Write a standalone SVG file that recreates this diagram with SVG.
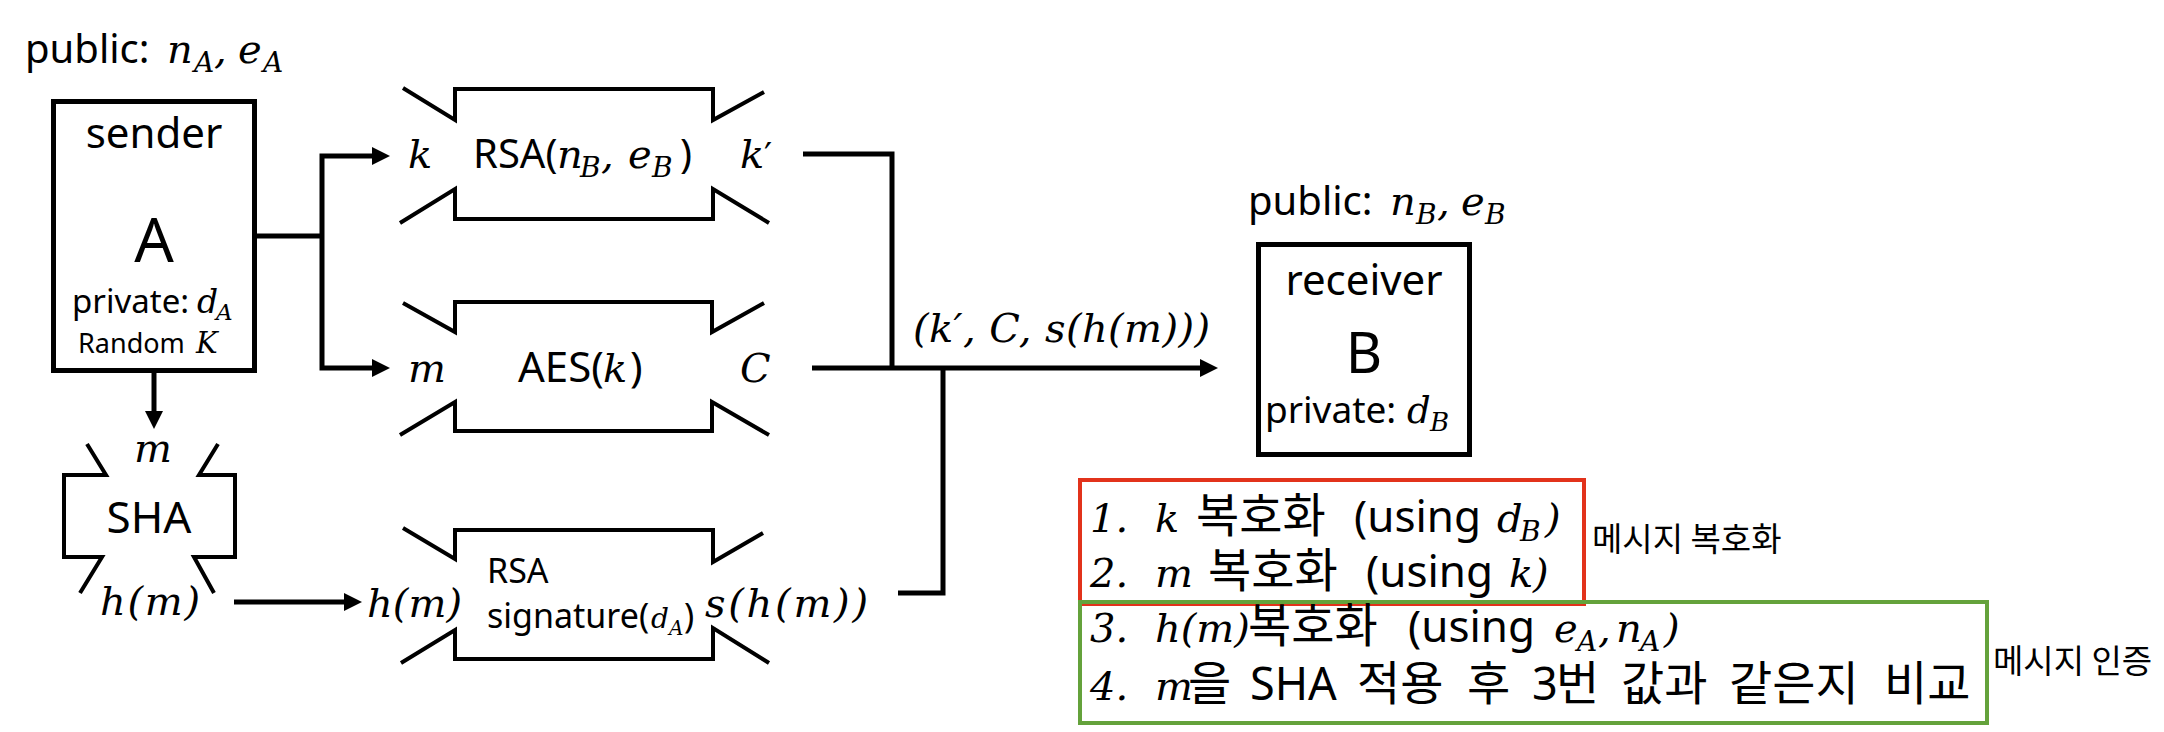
<svg xmlns="http://www.w3.org/2000/svg" width="2164" height="732" viewBox="0 0 2164 732">
<defs>
<style>
.s{font-family:"Noto Sans","Noto Sans CJK KR",sans-serif;fill:#000}
.k{font-family:"Noto Sans CJK KR","Noto Sans",sans-serif;fill:#000}
.m{font-family:"DejaVu Serif",serif;font-style:italic;fill:#000}
.up{font-style:normal}
.box{fill:none;stroke:#000;stroke-width:5}
.blk{fill:none;stroke:#000;stroke-width:4;stroke-linejoin:miter}
.wire{fill:none;stroke:#000;stroke-width:5;stroke-linejoin:miter}
</style>
<marker id="ah" markerUnits="userSpaceOnUse" markerWidth="18" markerHeight="18" refX="12" refY="9" orient="auto">
<path d="M0,0 L18,9 L0,18 z" fill="#000"/>
</marker>
</defs>
<rect width="2164" height="732" fill="#fff"/>

<g id="sender">
<text y="63"><tspan class="s" x="25" font-size="40">public:</tspan><tspan class="m" x="167" font-size="40">n</tspan><tspan class="m" x="194" dy="9" font-size="28">A</tspan><tspan class="m" x="214" dy="-9" font-size="40">,</tspan><tspan class="m" x="238" font-size="40">e</tspan><tspan class="m" x="263" dy="9" font-size="28">A</tspan></text>
<rect class="box" x="53.5" y="101.5" width="201" height="269"/>
<text class="s" x="154" y="148" font-size="42" text-anchor="middle">sender</text>
<text class="s" x="154" y="262" font-size="62" text-anchor="middle">A</text>
<text y="313"><tspan class="s" x="72" font-size="33">private:</tspan><tspan class="m" x="197" font-size="33">d</tspan><tspan class="m" x="216" dy="7" font-size="23">A</tspan></text>
<text y="353"><tspan class="s" x="78" font-size="27">Random</tspan><tspan class="m" x="196" font-size="29">K</tspan></text>
</g>

<g id="sha">
<path class="blk" d="M87,444 L106,475 L64,475 L64,557 L102,557 L80,593 M218,444 L199,475 L235,475 L235,557 L194,557 L214,593"/>
<text class="m" x="153" y="462" font-size="40" text-anchor="middle">m</text>
<text class="s" x="149" y="533" font-size="44" text-anchor="middle">SHA</text>
<text class="m" x="100" y="615" font-size="40" textLength="100" lengthAdjust="spacing">h(m)</text>
</g>

<g id="rsa">
<path class="blk" d="M403,88 L455,120 L455,89 L713,89 L713,120 L764,92 M400,223 L455,189 L455,219 L713,219 L713,189 L769,223"/>
<text class="m" x="408" y="168" font-size="40">k</text>
<text y="168"><tspan class="s" x="473" font-size="40">RSA(</tspan><tspan class="m" x="557" font-size="40">n</tspan><tspan class="m" x="580" dy="9" font-size="28">B</tspan><tspan class="m" x="601" dy="-9" font-size="40">,</tspan><tspan class="m" x="628" font-size="40">e</tspan><tspan class="m" x="652" dy="9" font-size="28">B</tspan><tspan class="s" x="680" dy="-9" font-size="40">)</tspan></text>
<text y="168"><tspan class="m" x="740" font-size="40">k</tspan><tspan class="m up" x="764" font-size="36">′</tspan></text>
</g>

<g id="aes">
<path class="blk" d="M403,303 L455,332 L455,302 L712,302 L712,332 L764,303 M400,435 L455,402 L455,431 L712,431 L712,402 L769,435"/>
<text class="m" x="408" y="382" font-size="40">m</text>
<text y="382"><tspan class="s" x="518" font-size="42">AES(</tspan><tspan class="m" x="603" font-size="40">k</tspan><tspan class="s" x="630" font-size="42">)</tspan></text>
<text class="m" x="740" y="382" font-size="40">C</text>
</g>

<g id="signature">
<path class="blk" d="M403,528 L455,559 L455,530 L713,530 L713,562 L763,533 M401,663 L455,630 L455,659 L713,659 L713,628 L769,663"/>
<text class="m" x="367" y="617" font-size="40" textLength="95" lengthAdjust="spacing">h(m)</text>
<text class="s" x="487" y="583" font-size="34">RSA</text>
<text y="628"><tspan class="s" x="487" font-size="34">signature(</tspan><tspan class="m" x="651" font-size="28">d</tspan><tspan class="m" x="669" dy="7" font-size="20">A</tspan><tspan class="s" x="684" dy="-7" font-size="34">)</tspan></text>
<text class="m" x="705" y="617" font-size="40" textLength="163" lengthAdjust="spacing">s(h(m))</text>
</g>

<g id="receiver">
<text y="215"><tspan class="s" x="1248" font-size="40">public:</tspan><tspan class="m" x="1390" font-size="40">n</tspan><tspan class="m" x="1416" dy="9" font-size="28">B</tspan><tspan class="m" x="1437" dy="-9" font-size="40">,</tspan><tspan class="m" x="1461" font-size="40">e</tspan><tspan class="m" x="1485" dy="9" font-size="28">B</tspan></text>
<rect class="box" x="1258.5" y="244.5" width="211" height="210"/>
<text class="s" x="1364" y="295" font-size="42" text-anchor="middle">receiver</text>
<text class="s" x="1364" y="373" font-size="56" text-anchor="middle">B</text>
<text y="423"><tspan class="s" x="1265" font-size="37">private:</tspan><tspan class="m" x="1407" font-size="37">d</tspan><tspan class="m" x="1430" dy="8" font-size="26">B</tspan></text>
</g>

<g id="message">
<text class="m" x="913" y="342" font-size="40" textLength="297" lengthAdjust="spacing">(k′, C, s(h(m)))</text>
</g>

<g id="decrypt-steps">
<rect x="1080" y="480" width="504" height="124" fill="none" stroke="#E2321B" stroke-width="4"/>
<text y="532"><tspan class="m" x="1090" font-size="40">1.</tspan><tspan class="m" x="1155" font-size="40">k</tspan><tspan class="k" x="1196" font-size="47">복호화</tspan><tspan class="s" x="1354" font-size="44">(using</tspan><tspan class="m" x="1497" font-size="40">d</tspan><tspan class="m" x="1520" dy="9" font-size="28">B</tspan><tspan class="m" x="1545" dy="-9" font-size="40">)</tspan></text>
<text y="587"><tspan class="m" x="1090" font-size="40">2.</tspan><tspan class="m" x="1155" font-size="40">m</tspan><tspan class="k" x="1208" font-size="47">복호화</tspan><tspan class="s" x="1366" font-size="44">(using</tspan><tspan class="m" x="1509" font-size="40">k</tspan><tspan class="m" x="1533" font-size="40">)</tspan></text>
<text class="k" x="1592" y="551" font-size="33">메시지 복호화</text>
</g>

<g id="verify-steps">
<rect x="1080" y="602" width="907" height="121" fill="none" stroke="#64A23B" stroke-width="4"/>
<text y="642"><tspan class="m" x="1090" font-size="40">3.</tspan><tspan class="m" x="1155" font-size="40">h(m)</tspan><tspan class="k" x="1248" font-size="47">복호화</tspan><tspan class="s" x="1408" font-size="44">(using</tspan><tspan class="m" x="1554" font-size="40">e</tspan><tspan class="m" x="1577" dy="9" font-size="28">A</tspan><tspan class="m" x="1598" dy="-9" font-size="40">,</tspan><tspan class="m" x="1616" font-size="40">n</tspan><tspan class="m" x="1640" dy="9" font-size="28">A</tspan><tspan class="m" x="1664" dy="-9" font-size="40">)</tspan></text>
<text y="700"><tspan class="m" x="1090" font-size="40">4.</tspan><tspan class="m" x="1155" font-size="40">m</tspan><tspan class="k" x="1188" font-size="47">을</tspan><tspan class="s" x="1250" font-size="45">SHA</tspan><tspan class="k" x="1357" font-size="47">적용</tspan><tspan class="k" x="1467" font-size="47">후</tspan><tspan class="s" x="1532" font-size="45">3</tspan><tspan class="k" x="1556" font-size="47">번</tspan><tspan class="k" x="1621" font-size="47">값과</tspan><tspan class="k" x="1729" font-size="47">같은지</tspan><tspan class="k" x="1884" font-size="47">비교</tspan></text>
<text class="k" x="1993" y="673" font-size="33">메시지 인증</text>
</g>

<g id="connectors" class="wire">
<polyline points="256,236 322,236"/>
<polyline points="322,236 322,156 384,156" marker-end="url(#ah)"/>
<polyline points="322,236 322,368 384,368" marker-end="url(#ah)"/>
<line x1="154" y1="373" x2="154" y2="423" marker-end="url(#ah)"/>
<line x1="234" y1="602" x2="356" y2="602" marker-end="url(#ah)"/>
<polyline points="803,154 892,154 892,368"/>
<line x1="812" y1="368" x2="1212" y2="368" marker-end="url(#ah)"/>
<polyline points="898,593 943,593 943,368"/>
</g>
</svg>
